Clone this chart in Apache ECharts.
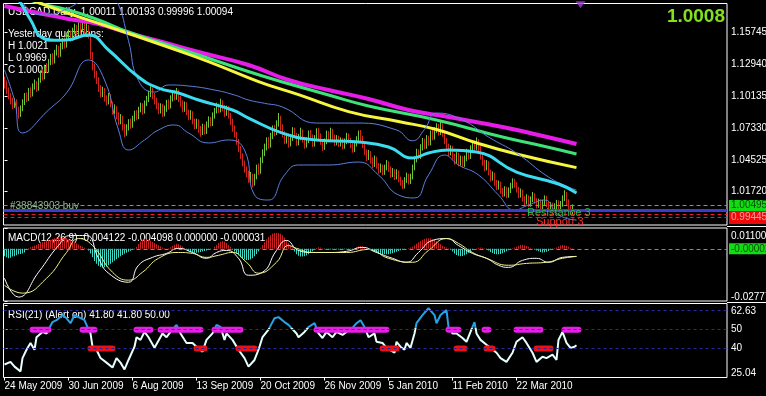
<!DOCTYPE html>
<html><head><meta charset="utf-8">
<script src="https://cdn.jsdelivr.net/npm/echarts@6/dist/echarts.min.js"></script>
<style>html,body{margin:0;padding:0;background:#000;overflow:hidden}#c{width:766px;height:396px}</style>
</head><body><div id="c"></div>
<script>
// ---------- DATA ----------
const tickLabels = ['24 May 2009','30 Jun 2009','6 Aug 2009','13 Sep 2009','20 Oct 2009','26 Nov 2009','5 Jan 2010','11 Feb 2010','22 Mar 2010'];
const tickIdx = [0,32,64,96,128,160,192,224,256];
const priceTicks = [1.01720,1.04525,1.07330,1.10135,1.12940,1.15745];
const macdTicks = [0.011004,-0.027776];
const rsiTicks = [25.04,40,50,60,62.63];
const firstOpen = 1.1150;
const barClose = [
1.1120,1.1065,1.1010,1.0975,1.0930,1.0965,1.0890,1.0850,1.0905,1.0960,
1.1010,1.0985,1.1060,1.1030,1.1095,1.1120,1.1080,1.1150,1.1210,1.1180,
1.1265,1.1240,1.1310,1.1350,1.1320,1.1395,1.1430,1.1380,1.1450,1.1490,
1.1460,1.1530,1.1560,1.1520,1.1585,1.1610,1.1570,1.1625,1.1600,1.1650,
1.1590,1.1620,1.1545,1.1380,1.1270,1.1200,1.1150,1.1080,1.1030,1.1060,
1.0990,1.0960,1.1005,1.0940,1.0880,1.0905,1.0840,1.0790,1.0820,1.0740,
1.0690,1.0735,1.0780,1.0755,1.0810,1.0850,1.0830,1.0895,1.0920,1.0880,
1.0950,1.0985,1.1030,1.1065,1.1010,1.0970,1.0930,1.0885,1.0920,1.0860,
1.0900,1.0950,1.0925,1.0990,1.1030,1.1000,1.1045,1.0990,1.0950,1.0900,
1.0935,1.0870,1.0830,1.0860,1.0790,1.0750,1.0785,1.0720,1.0690,1.0740,
1.0700,1.0760,1.0800,1.0770,1.0840,1.0880,1.0920,1.0890,1.0950,1.0910,
1.0860,1.0900,1.0840,1.0790,1.0730,1.0680,1.0610,1.0550,1.0490,1.0420,
1.0370,1.0330,1.0280,1.0310,1.0250,1.0300,1.0380,1.0350,1.0450,1.0510,
1.0560,1.0620,1.0580,1.0660,1.0720,1.0690,1.0770,1.0810,1.0740,1.0680,
1.0620,1.0660,1.0590,1.0640,1.0710,1.0670,1.0600,1.0650,1.0700,1.0630,
1.0580,1.0620,1.0680,1.0650,1.0590,1.0640,1.0700,1.0660,1.0610,1.0560,
1.0610,1.0680,1.0640,1.0700,1.0650,1.0600,1.0640,1.0590,1.0620,1.0570,
1.0610,1.0660,1.0620,1.0580,1.0540,1.0590,1.0630,1.0670,1.0640,1.0580,
1.0520,1.0470,1.0510,1.0450,1.0410,1.0460,1.0400,1.0360,1.0390,1.0340,
1.0380,1.0420,1.0370,1.0320,1.0350,1.0300,1.0340,1.0280,1.0250,1.0220,
1.0270,1.0310,1.0260,1.0300,1.0380,1.0450,1.0520,1.0480,1.0560,1.0610,
1.0570,1.0640,1.0600,1.0680,1.0650,1.0710,1.0740,1.0690,1.0750,1.0680,
1.0620,1.0570,1.0510,1.0550,1.0480,1.0440,1.0490,1.0420,1.0460,1.0410,
1.0460,1.0520,1.0480,1.0550,1.0590,1.0560,1.0610,1.0550,1.0480,1.0430,
1.0380,1.0420,1.0340,1.0290,1.0320,1.0250,1.0210,1.0240,1.0180,1.0150,
1.0190,1.0140,1.0180,1.0220,1.0260,1.0230,1.0190,1.0140,1.0170,1.0110,
1.0080,1.0120,1.0060,1.0100,1.0140,1.0090,1.0050,1.0080,1.0040,1.0070,
1.0110,1.0060,1.0020,1.0050,1.0010,1.0040,1.0070,1.0020,1.0060,1.0110,
1.0150,1.0080,1.0030,0.9990,1.0030,1.0001,1.0009];
const barHigh = [
1.1185,1.1150,1.1090,1.1040,1.1000,1.0995,1.0985,1.0920,1.0930,1.0985,
1.1040,1.1045,1.1085,1.1090,1.1125,1.1160,1.1145,1.1175,1.1240,1.1250,
1.1290,1.1305,1.1340,1.1385,1.1390,1.1420,1.1465,1.1455,1.1480,1.1525,
1.1530,1.1560,1.1600,1.1590,1.1615,1.1650,1.1640,1.1660,1.1655,1.1690,
1.1680,1.1660,1.1640,1.1560,1.1400,1.1300,1.1235,1.1180,1.1110,1.1095,
1.1085,1.1020,1.1040,1.1030,1.0965,1.0940,1.0925,1.0870,1.0855,1.0840,
1.0770,1.0765,1.0810,1.0815,1.0840,1.0885,1.0890,1.0920,1.0955,1.0950,
1.0975,1.1015,1.1060,1.1100,1.1090,1.1040,1.1000,1.0955,1.0950,1.0945,
1.0930,1.0980,1.0985,1.1020,1.1065,1.1060,1.1085,1.1070,1.1015,1.0975,
1.0965,1.0960,1.0895,1.0890,1.0880,1.0815,1.0815,1.0810,1.0750,1.0770,
1.0765,1.0790,1.0835,1.0830,1.0870,1.0910,1.0955,1.0950,1.0990,1.0975,
1.0935,1.0930,1.0925,1.0865,1.0815,1.0755,1.0700,1.0635,1.0575,1.0510,
1.0445,1.0395,1.0355,1.0345,1.0330,1.0330,1.0410,1.0420,1.0475,1.0545,
1.0595,1.0650,1.0655,1.0690,1.0755,1.0760,1.0800,1.0865,1.0840,1.0765,
1.0705,1.0690,1.0685,1.0670,1.0740,1.0735,1.0690,1.0680,1.0735,1.0720,
1.0655,1.0650,1.0710,1.0715,1.0675,1.0670,1.0730,1.0735,1.0685,1.0635,
1.0640,1.0710,1.0705,1.0735,1.0725,1.0675,1.0670,1.0665,1.0650,1.0645,
1.0640,1.0690,1.0685,1.0645,1.0605,1.0620,1.0660,1.0710,1.0715,1.0665,
1.0605,1.0545,1.0540,1.0530,1.0475,1.0490,1.0480,1.0425,1.0420,1.0410,
1.0410,1.0450,1.0440,1.0395,1.0380,1.0370,1.0370,1.0360,1.0305,1.0275,
1.0300,1.0340,1.0330,1.0330,1.0410,1.0480,1.0550,1.0545,1.0590,1.0645,
1.0640,1.0670,1.0665,1.0710,1.0715,1.0740,1.0775,1.0770,1.0790,1.0775,
1.0705,1.0645,1.0595,1.0580,1.0575,1.0505,1.0520,1.0515,1.0490,1.0485,
1.0490,1.0550,1.0545,1.0580,1.0625,1.0620,1.0650,1.0635,1.0575,1.0505,
1.0455,1.0450,1.0440,1.0365,1.0350,1.0340,1.0275,1.0270,1.0260,1.0205,
1.0220,1.0215,1.0210,1.0250,1.0290,1.0285,1.0255,1.0215,1.0200,1.0190,
1.0135,1.0150,1.0140,1.0130,1.0170,1.0160,1.0115,1.0110,1.0105,1.0100,
1.0140,1.0135,1.0085,1.0080,1.0075,1.0070,1.0100,1.0095,1.0090,1.0140,
1.0185,1.0170,1.0105,1.0055,1.0060,1.0021,1.0019];
const barLow = [
1.1080,1.1030,1.0985,1.0940,1.0900,1.0910,1.0860,1.0815,1.0830,1.0880,
1.0935,1.0960,1.0970,1.1000,1.1010,1.1070,1.1050,1.1060,1.1130,1.1150,
1.1160,1.1215,1.1220,1.1285,1.1290,1.1300,1.1370,1.1350,1.1360,1.1425,
1.1430,1.1440,1.1505,1.1490,1.1500,1.1560,1.1540,1.1550,1.1570,1.1580,
1.1560,1.1565,1.1520,1.1340,1.1240,1.1170,1.1120,1.1050,1.1000,1.1005,
1.0965,1.0930,1.0940,1.0915,1.0850,1.0855,1.0810,1.0760,1.0765,1.0710,
1.0650,1.0665,1.0710,1.0725,1.0735,1.0790,1.0800,1.0810,1.0870,1.0850,
1.0860,1.0925,1.0960,1.1005,1.0985,1.0940,1.0900,1.0855,1.0860,1.0830,
1.0835,1.0875,1.0895,1.0905,1.0965,1.0975,1.0980,1.0960,1.0920,1.0870,
1.0875,1.0845,1.0800,1.0805,1.0765,1.0720,1.0725,1.0690,1.0655,1.0670,
1.0675,1.0680,1.0735,1.0745,1.0750,1.0815,1.0860,1.0865,1.0870,1.0880,
1.0830,1.0840,1.0815,1.0760,1.0700,1.0650,1.0585,1.0520,1.0460,1.0395,
1.0340,1.0300,1.0250,1.0250,1.0210,1.0225,1.0280,1.0320,1.0330,1.0425,
1.0485,1.0535,1.0550,1.0560,1.0635,1.0660,1.0670,1.0745,1.0710,1.0650,
1.0590,1.0595,1.0560,1.0570,1.0620,1.0645,1.0575,1.0580,1.0625,1.0605,
1.0550,1.0560,1.0600,1.0625,1.0565,1.0570,1.0620,1.0635,1.0585,1.0530,
1.0540,1.0590,1.0615,1.0620,1.0625,1.0575,1.0580,1.0565,1.0570,1.0545,
1.0550,1.0590,1.0595,1.0555,1.0515,1.0520,1.0570,1.0610,1.0615,1.0555,
1.0495,1.0440,1.0450,1.0420,1.0380,1.0390,1.0375,1.0330,1.0340,1.0315,
1.0320,1.0360,1.0345,1.0295,1.0300,1.0275,1.0280,1.0255,1.0225,1.0195,
1.0200,1.0250,1.0235,1.0240,1.0280,1.0360,1.0430,1.0455,1.0460,1.0535,
1.0545,1.0550,1.0575,1.0580,1.0625,1.0630,1.0690,1.0665,1.0670,1.0655,
1.0590,1.0545,1.0480,1.0490,1.0455,1.0410,1.0420,1.0395,1.0400,1.0385,
1.0390,1.0440,1.0455,1.0460,1.0525,1.0535,1.0540,1.0525,1.0455,1.0400,
1.0350,1.0360,1.0315,1.0260,1.0270,1.0225,1.0185,1.0190,1.0155,1.0125,
1.0130,1.0115,1.0120,1.0160,1.0200,1.0205,1.0165,1.0115,1.0120,1.0085,
1.0055,1.0060,1.0035,1.0040,1.0080,1.0065,1.0025,1.0030,1.0015,1.0020,
1.0050,1.0035,0.9995,1.0000,0.9985,0.9990,1.0020,0.9995,1.0000,1.0040,
1.0090,1.0055,1.0005,0.9965,0.9970,0.9969,1.0000];
const maMagenta = [[0,1.1806],[17,1.1745],[32,1.1692],[47,1.1648],[62,1.1568],[77,1.1498],[97,1.1401],[122,1.1287],[142,1.1155],[162,1.1067],[182,1.0988],[202,1.0891],[222,1.0829],[249,1.0741],[267,1.0671],[286,1.0592]];
const maGreen = [[0,1.1950],[17,1.1833],[32,1.1771],[47,1.1683],[62,1.1577],[77,1.1489],[97,1.1375],[129,1.1190],[162,1.1023],[182,1.0926],[216,1.0803],[249,1.0653],[267,1.0583],[286,1.0504]];
const maYellow = [[0,1.1960],[15,1.1850],[27,1.1771],[52,1.1625],[81,1.1449],[102,1.1317],[127,1.1141],[147,1.1026],[172,1.0877],[197,1.0789],[216,1.0719],[237,1.0596],[257,1.0499],[286,1.0384]];
const maCyan = [[0,1.2010],[7,1.1860],[13,1.1685],[19,1.1525],[25,1.1505],[31,1.1507],[42,1.1551],[52,1.1419],[67,1.1181],[77,1.1084],[87,1.1041],[97,1.0979],[114,1.0891],[122,1.0820],[139,1.0688],[156,1.0627],[177,1.0609],[192,1.0565],[204,1.0469],[212,1.0513],[222,1.0539],[236,1.0521],[256,1.0345],[277,1.0240],[286,1.0161]];
const bandUpper = [[0,1.2190],[10,1.1815],[20,1.1727],[30,1.1771],[40,1.1860],[52,1.1900],[56,1.1860],[62,1.1500],[67,1.1150],[75,1.1049],[82,1.1111],[92,1.1102],[105,1.1067],[115,1.1023],[122,1.0979],[130,1.0950],[139,1.0917],[156,1.0776],[176,1.0776],[196,1.0715],[204,1.0620],[210,1.0720],[216,1.0864],[229,1.0803],[242,1.0653],[256,1.0512],[272,1.0301],[282,1.0213],[286,1.0187]];
const bandLower = [[0,1.1243],[5,1.0979],[9,1.0689],[22,1.0891],[31,1.1041],[42,1.1331],[50,1.1155],[57,1.0715],[62,1.0539],[70,1.0627],[77,1.0715],[85,1.0759],[92,1.0689],[102,1.0601],[112,1.0627],[120,1.0539],[125,1.0143],[132,1.0099],[140,1.0319],[147,1.0407],[162,1.0407],[177,1.0433],[187,1.0319],[197,1.0143],[205,1.0117],[212,1.0319],[220,1.0495],[227,1.0407],[237,1.0319],[247,1.0143],[255,1.0011],[262,1.0055],[270,1.0099],[277,0.9967],[286,0.9923]];
const priceLevels = {buyLine:1.00495, openLine:1.0005, stopLine:0.9970, lowLine:0.99445};
const arrowMark = [[288,1.1818]];
const macdHist = [
-0.0040,-0.0045,-0.0050,-0.0048,-0.0042,-0.0040,-0.0035,-0.0030,-0.0028,-0.0025,
-0.0020,-0.0005,0.0003,0.0008,0.0012,0.0016,0.0020,0.0025,0.0030,0.0034,
0.0038,0.0042,0.0045,0.0048,0.0052,0.0055,0.0058,0.0060,0.0061,0.0060,
0.0058,0.0055,0.0050,0.0045,0.0040,0.0034,0.0028,0.0022,0.0016,0.0010,
0.0005,0.0001,-0.0010,-0.0025,-0.0045,-0.0065,-0.0080,-0.0090,-0.0097,-0.0100,
-0.0098,-0.0094,-0.0088,-0.0080,-0.0072,-0.0064,-0.0056,-0.0048,-0.0040,-0.0033,
-0.0027,-0.0021,-0.0016,-0.0011,-0.0007,-0.0003,0.0010,0.0025,0.0038,0.0046,
0.0050,0.0050,0.0047,0.0042,0.0036,0.0030,0.0024,0.0018,0.0012,0.0007,
0.0003,0.0001,0.0003,0.0008,0.0015,0.0021,0.0025,0.0024,0.0018,0.0010,
0.0003,-0.0006,-0.0012,-0.0017,-0.0020,-0.0022,-0.0022,-0.0020,-0.0018,-0.0015,
-0.0012,-0.0009,-0.0006,-0.0003,0.0000,0.0010,0.0020,0.0030,0.0037,0.0040,
0.0038,0.0030,0.0020,0.0010,-0.0005,-0.0015,-0.0025,-0.0035,-0.0045,-0.0052,
-0.0057,-0.0060,-0.0060,-0.0057,-0.0050,-0.0040,-0.0028,-0.0015,0.0005,0.0020,
0.0035,0.0050,0.0062,0.0072,0.0079,0.0083,0.0085,0.0084,0.0080,0.0072,
0.0060,0.0045,0.0030,0.0015,0.0005,-0.0015,-0.0030,-0.0038,-0.0041,-0.0042,
-0.0040,-0.0036,-0.0030,-0.0022,-0.0014,-0.0006,0.0004,0.0008,0.0006,0.0002,
-0.0003,-0.0004,-0.0005,-0.0004,-0.0003,-0.0002,-0.0003,-0.0004,-0.0005,-0.0004,
-0.0003,-0.0002,-0.0003,-0.0002,-0.0001,0.0003,0.0008,0.0013,0.0015,0.0013,
0.0008,0.0003,-0.0003,-0.0008,-0.0013,-0.0018,-0.0022,-0.0025,-0.0027,-0.0029,
-0.0030,-0.0030,-0.0029,-0.0027,-0.0024,-0.0020,-0.0016,-0.0012,-0.0008,-0.0005,
-0.0003,0.0000,0.0003,0.0006,0.0010,0.0018,0.0026,0.0034,0.0041,0.0047,
0.0052,0.0055,0.0056,0.0055,0.0052,0.0047,0.0040,0.0032,0.0024,0.0016,
0.0010,0.0006,0.0003,-0.0005,-0.0015,-0.0025,-0.0033,-0.0038,-0.0040,-0.0039,
-0.0035,-0.0029,-0.0022,-0.0014,-0.0007,0.0000,0.0003,0.0006,0.0007,0.0005,
0.0002,-0.0004,-0.0010,-0.0017,-0.0023,-0.0028,-0.0030,-0.0030,-0.0028,-0.0024,
-0.0019,-0.0013,-0.0008,-0.0003,0.0002,0.0006,0.0011,0.0016,0.0020,0.0021,
0.0019,0.0015,0.0010,0.0005,0.0001,-0.0004,-0.0009,-0.0014,-0.0018,-0.0020,
-0.0019,-0.0016,-0.0012,-0.0007,-0.0003,0.0002,0.0007,0.0012,0.0017,0.0020,
0.0019,0.0015,0.0010,0.0005,0.0002,0.0000,0.0000];
const macdMain = [[0,-0.0157],[7,-0.0257],[17,-0.0125],[27,0.0017],[33,0.0070],[41,0.0070],[47,-0.0051],[52,-0.0130],[62,-0.0178],[67,-0.0088],[74,-0.0046],[81,-0.0025],[87,0.0002],[94,-0.0020],[101,-0.0051],[106,-0.0020],[111,-0.0009],[117,-0.0051],[122,-0.0141],[129,-0.0125],[136,-0.0009],[141,0.0044],[147,-0.0009],[154,-0.0020],[162,-0.0020],[171,-0.0014],[179,0.0007],[186,-0.0020],[194,-0.0051],[201,-0.0072],[207,-0.0020],[214,0.0044],[221,0.0054],[227,0.0017],[234,-0.0025],[241,-0.0051],[247,-0.0088],[252,-0.0099],[259,-0.0062],[266,-0.0051],[272,-0.0072],[279,-0.0046],[286,-0.0041]];
const macdSignal = [[0,-0.0194],[9,-0.0236],[21,-0.0157],[31,-0.0020],[37,0.0054],[44,0.0017],[54,-0.0125],[62,-0.0167],[69,-0.0125],[77,-0.0051],[87,-0.0020],[94,-0.0025],[101,-0.0046],[107,-0.0035],[114,-0.0020],[121,-0.0072],[127,-0.0130],[136,-0.0072],[142,0.0017],[146,0.0002],[154,-0.0020],[171,-0.0020],[182,-0.0004],[192,-0.0051],[204,-0.0072],[212,-0.0009],[221,0.0054],[227,0.0028],[234,-0.0020],[241,-0.0051],[252,-0.0088],[261,-0.0078],[271,-0.0072],[279,-0.0051],[286,-0.0041]];
const macdLevel = -0.00002;
const rsiPoints = [[0,31.6],[3,33],[5,30.5],[8,28],[9,35],[11,39.4],[13,43],[15,39.4],[16,46],[19,48.8],[21,48],[22,50],[24,54],[26,55],[29,57.7],[31,56],[33,53.4],[35,57.7],[37,56.6],[40,55],[41,52.5],[43,48],[44,41],[46,39.4],[48,35],[51,32.6],[54,30],[56,35],[58,32.6],[60,29],[62,34],[65,41],[66,46],[68,44.6],[70,48.8],[72,46],[75,40.4],[76,39.4],[79,48],[81,46],[83,48.8],[86,52.5],[88,48],[91,43],[94,43],[96,41],[99,38.4],[101,44.6],[104,48],[106,52.5],[108,51.4],[110,44.6],[111,48],[114,44.6],[117,39.4],[120,35],[122,30.5],[125,34],[127,39.4],[129,46],[132,50],[135,56],[137,56.6],[140,54],[142,52.5],[146,48],[147,46],[150,48.8],[152,51.4],[155,53.4],[157,48],[159,45.6],[161,48.8],[164,46],[166,48.8],[169,47.2],[171,48.8],[174,50.9],[176,53.4],[178,55],[180,51.4],[182,46],[185,48],[186,43.6],[189,43],[191,40.4],[195,37.8],[196,43.6],[198,41],[200,39.4],[201,43],[203,40.4],[205,48],[206,53.4],[209,57.7],[212,61.3],[215,57.7],[216,53.4],[218,57.7],[221,60.3],[222,51.4],[224,48],[226,48],[229,45.6],[231,43.6],[233,48.8],[235,54],[236,48],[238,44.6],[241,42],[243,40.4],[246,37.8],[248,35],[251,33],[254,37.8],[256,43.6],[259,46],[261,43],[264,37.8],[266,33],[269,35.7],[271,35],[274,36.8],[276,34],[277,44.6],[279,48.8],[281,43],[283,40.4],[285,41],[286,41.8]];
const rsiLevels = [40,50,60];
const rsiUpColorLevel = 51;
const alertUpSegs = [[14,22],[39,45],[66,73],[78,98],[105,118],[156,191],[222,227],[240,242],[256,268],[280,287]];
const alertDownSegs = [[43,54],[96,100],[117,125],[189,196],[226,230],[241,244],[266,273]];

// ---------- BUILD ----------
if (barHigh.length !== barClose.length || barLow.length !== barClose.length || macdHist.length !== barClose.length)
  throw new Error('len ' + barClose.length + ' ' + barHigh.length + ' ' + barLow.length + ' ' + macdHist.length);
const FONT = 'Liberation Sans';
const UP = '#6cc83a', DN = '#d0241c', HPOS = '#c82020', HNEG = '#3ed6c4';
// OHLC items: [index, open(=previous close), close, low, high]
const ohlc = barClose.map((c, i) => [i, i ? barClose[i - 1] : firstOpen, c, barLow[i], barHigh[i]]);
const hist = macdHist.map((v, i) => ({ value: [i, v], itemStyle: { color: v >= 0 ? HPOS : HNEG } }));
function segData(segs, lvl) { const d = []; segs.forEach(s => { d.push([s[0], lvl], [s[1], lvl], [s[1], '-']); }); return d; }
const XMIN = -0.5, XMAX = 361.25;
const G = [{ top: 3.5, h: 221.5 }, { top: 228, h: 73 }, { top: 303.5, h: 74 }];
const RSI_MIN = 24.75, RSI_MAX = 63.8;
function xAx(k, show) {
  return { type: 'value', gridIndex: k, min: XMIN, max: XMAX, show: show, splitLine: { show: false },
    axisLine: { show: false },
    axisTick: show ? { show: true, customValues: tickIdx, length: 3, lineStyle: { color: '#fff' } } : { show: false },
    axisLabel: show ? { show: true, customValues: tickIdx, align: 'left', margin: 4, color: '#fff', fontFamily: FONT, fontSize: 10,
      showMinLabel: true, showMaxLabel: true, formatter: v => tickLabels[tickIdx.indexOf(v)] || '' } : { show: false } };
}
function yAx(k, min, max, vals, fmt, rich) {
  return { type: 'value', gridIndex: k, position: 'right', min: min, max: max, splitLine: { show: false },
    axisLine: { show: false },
    axisTick: { show: true, customValues: vals, length: 3, lineStyle: { color: '#fff' } },
    axisLabel: { show: true, customValues: vals, margin: 4, color: '#fff', fontFamily: FONT, fontSize: 10, showMinLabel: true, showMaxLabel: true, hideOverlap: false, formatter: fmt, rich: rich || {} } };
}
const lineS = (data, color, w, extra) => Object.assign({ type: 'line', xAxisIndex: 0, yAxisIndex: 0, data: data, smooth: true, showSymbol: false, symbol: 'none', silent: true,
  lineStyle: { color: color, width: w } }, extra || {});
const f = (RSI_MAX - rsiUpColorLevel) / (RSI_MAX - RSI_MIN);
const rsiGrad = new echarts.graphic.LinearGradient(0, G[2].top, 0, G[2].top + G[2].h, [
  { offset: 0, color: '#25a2e8' }, { offset: f, color: '#25a2e8' }, { offset: f, color: '#e6ffff' }, { offset: 1, color: '#e6ffff' }], true);
const richT = (pt, pb) => ({ color: '#fff', fontSize: 10, fontFamily: FONT, padding: [pt, 0, pb, 0] });
const chart = echarts.init(document.getElementById('c'));
chart.setOption({
  backgroundColor: '#000', animation: false,
  grid: G.map(g => ({ left: 3.5, right: 39, top: g.top, height: g.h, show: true, borderColor: '#fff', borderWidth: 1, containLabel: false, outerBoundsMode: 'none' })),
  xAxis: [xAx(0, false), xAx(1, false), xAx(2, true)],
  yAxis: [
    yAx(0, 0.9879, 1.1828, priceTicks, v => v.toFixed(5)),
    yAx(1, -0.027776, 0.011004, macdTicks, v => v > 0 ? '{t|' + v.toFixed(6) + '}' : '{b|' + v.toFixed(6) + '}',
      { t: richT(16, 0), b: richT(0, 8) }),
    yAx(2, RSI_MIN, RSI_MAX, rsiTicks, v => v === 62.63 ? '{t|62.63}' : (v === 25.04 ? '{b|25.04}' : String(v)),
      { t: richT(12, 0), b: richT(0, 7) })
  ],
  series: [
    { type: 'candlestick', xAxisIndex: 0, yAxisIndex: 0, data: ohlc, silent: true, encode: { x: 0, y: [1, 2, 3, 4] },
      barWidth: 1, large: false,
      itemStyle: { color: UP, color0: DN, borderColor: UP, borderColor0: DN, borderWidth: 1 },
      emphasis: { disabled: true },
      markLine: { silent: true, symbol: 'none', animation: false, precision: 5, label: { show: false }, data: [
        { yAxis: priceLevels.buyLine, lineStyle: { color: '#19e019', type: [4, 3], width: 1 },
          label: { show: true, position: 'end', distance: 2, formatter: p => Number(p.value).toFixed(5), backgroundColor: '#12dd12', color: '#0a4a0a', padding: [1, 2, 0, 2], fontFamily: FONT, fontSize: 10 } },
        { yAxis: priceLevels.openLine, lineStyle: { color: '#3c3cc8', type: 'solid', width: 3 }, label: { show: false } },
        { yAxis: priceLevels.stopLine, lineStyle: { color: '#e02020', type: [4, 3], width: 1 }, label: { show: false } },
        { yAxis: priceLevels.lowLine, lineStyle: { color: '#e02020', type: [4, 3], width: 1 },
          label: { show: true, position: 'end', distance: 2, formatter: p => Number(p.value).toFixed(5), backgroundColor: '#ee0a0a', color: '#ff9a9a', padding: [2, 2, 1, 2], fontFamily: FONT, fontSize: 10 } }
      ] } },
    lineS(maMagenta, '#e81ce8', 4),
    lineS(maGreen, '#3ee27a', 3),
    lineS(maYellow, '#f6f640', 3),
    lineS(bandUpper, '#5b7fe0', 1),
    lineS(bandLower, '#5b7fe0', 1),
    lineS(maCyan, '#3cdcf0', 3),
    { type: 'scatter', xAxisIndex: 0, yAxisIndex: 0, data: arrowMark, symbol: 'triangle', symbolRotate: 180, symbolSize: [10, 7], clip: false, silent: true, itemStyle: { color: '#a03cdc' } },
    { type: 'bar', xAxisIndex: 1, yAxisIndex: 1, data: hist, silent: true, barWidth: 1, large: false, emphasis: { disabled: true },
      markLine: { silent: true, symbol: 'none', animation: false, precision: 6, data: [
        { yAxis: macdLevel, lineStyle: { color: '#20d020', type: [4, 3], width: 1 },
          label: { show: true, position: 'end', distance: 2, formatter: p => Number(p.value).toFixed(6), backgroundColor: '#12dd12', color: '#0a4a0a', padding: [1, 2, 0, 2], fontFamily: FONT, fontSize: 10 } }
      ] } },
    Object.assign(lineS(macdMain, '#ffffff', 1), { xAxisIndex: 1, yAxisIndex: 1 }),
    Object.assign(lineS(macdSignal, '#f4f48a', 1), { xAxisIndex: 1, yAxisIndex: 1 }),
    { type: 'line', xAxisIndex: 2, yAxisIndex: 2, data: [], silent: true, showSymbol: false,
      markLine: { silent: true, symbol: 'none', animation: false, label: { show: false },
        lineStyle: { color: '#2626a0', type: [3, 3], width: 1 }, data: rsiLevels.map(v => ({ yAxis: v })) } },
    { type: 'line', xAxisIndex: 2, yAxisIndex: 2, data: rsiPoints, smooth: false, showSymbol: false, symbol: 'none', silent: true,
      lineStyle: { width: 2, color: rsiGrad } },
    { type: 'line', xAxisIndex: 2, yAxisIndex: 2, data: segData(alertUpSegs, 50), showSymbol: false, symbol: 'none', silent: true, connectNulls: false,
      lineStyle: { color: '#e61ee6', width: 6, cap: 'round' } },
    { type: 'line', xAxisIndex: 2, yAxisIndex: 2, data: segData(alertDownSegs, 40), showSymbol: false, symbol: 'none', silent: true, connectNulls: false,
      lineStyle: { color: '#ee1010', width: 6, cap: 'round' } }
  ],
  graphic: [
    { type: 'text', x: 8, y: 12, z: -1, style: { text: 'USDCAD,Daily  1.00011 1.00193 0.99996 1.00094', fill: '#fff', font: '10px "Liberation Sans"', verticalAlign: 'middle' } },
    { type: 'text', x: 8, y: 34, z: -1, style: { text: 'Yesterday quotations:', fill: '#fff', font: '10px "Liberation Sans"', verticalAlign: 'middle' } },
    { type: 'text', x: 8, y: 46, z: -1, style: { text: 'H 1.0021', fill: '#fff', font: '10px "Liberation Sans"', verticalAlign: 'middle' } },
    { type: 'text', x: 8, y: 58, z: -1, style: { text: 'L 0.9969', fill: '#fff', font: '10px "Liberation Sans"', verticalAlign: 'middle' } },
    { type: 'text', x: 8, y: 70, z: -1, style: { text: 'C 1.0001', fill: '#fff', font: '10px "Liberation Sans"', verticalAlign: 'middle' } },
    { type: 'text', x: 725, y: 17, style: { text: '1.0008', fill: '#84e01c', font: 'bold 19px "Liberation Sans"', align: 'right', verticalAlign: 'middle' } },
    { type: 'text', x: 10, y: 206.5, z: -1, style: { text: '#38843903 buy', fill: '#8fb88f', font: '10px "Liberation Sans"', verticalAlign: 'middle' } },
    { type: 'text', x: 527, y: 212.5, z: 10, style: { text: 'Resistance 3', fill: '#2eb84a', font: '11px "Liberation Sans"', verticalAlign: 'middle' } },
    { type: 'text', x: 536, y: 221.5, z: 10, style: { text: 'Support 3', fill: '#ff2a2a', font: '11px "Liberation Sans"', verticalAlign: 'middle' } },
    { type: 'text', x: 8, y: 238.5, z: -1, style: { text: 'MACD(12,26,9) -0.004122 -0.004098 0.000000 -0.000031', fill: '#fff', font: '10px "Liberation Sans"', verticalAlign: 'middle' } },
    { type: 'text', x: 8, y: 315, z: -1, style: { text: 'RSI(21) (Alert on) 41.80 41.80 50.00', fill: '#fff', font: '10px "Liberation Sans"', verticalAlign: 'middle' } },
    { type: 'line', z: 20, shape: { x1: 727, y1: 226.5, x2: 766, y2: 226.5 }, style: { stroke: '#fff', lineWidth: 1 } },
    { type: 'line', z: 20, shape: { x1: 727, y1: 302.5, x2: 766, y2: 302.5 }, style: { stroke: '#fff', lineWidth: 1 } }
  ]
});
</script></body></html>
